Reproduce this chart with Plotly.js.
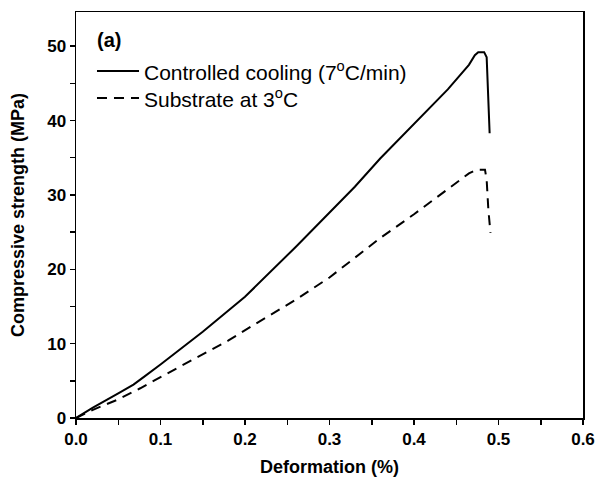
<!DOCTYPE html>
<html><head><meta charset="utf-8">
<script src="https://cdn.plot.ly/plotly-3.0.1.min.js"></script>
<style>body{margin:0;background:#fff}#c{width:604px;height:487px}</style>
</head><body><div id="c"></div>
<script>
const solidX = [0,0.02,0.05,0.068,0.08,0.1,0.15,0.18,0.2,0.26,0.3,0.33,0.36,0.4,0.44,0.465,0.472,0.476,0.483,0.486,0.487,0.488,0.4895];
const solidY = [0,1.4,3.3,4.5,5.5,7.2,11.6,14.4,16.3,23.0,27.6,31.1,34.9,39.6,44.2,47.5,48.8,49.2,49.2,48.5,45,42,38.3];
const dashX = [0,0.02,0.05,0.076,0.1,0.167,0.18,0.21,0.26,0.3,0.36,0.4,0.44,0.465,0.474,0.484,0.486,0.488,0.4905];
const dashY = [0,1.1,2.5,4.0,5.5,9.6,10.4,12.5,15.9,18.9,24.2,27.4,30.8,32.9,33.4,33.4,32,28,24.9];
const names = ["Controlled cooling (7<sup>o</sup>C/min)", "Substrate at 3<sup>o</sup>C"];
const panelLabel = "(a)";

const F = "Arial, 'Liberation Sans', sans-serif";
const DASH = '10px,7px';
const traces = [
  {x: solidX, y: solidY, name: names[0], mode: 'lines', line: {color: '#000', width: 2, dash: 'solid'}},
  {x: dashX, y: dashY, name: names[1], mode: 'lines', line: {color: '#000', width: 2, dash: DASH}}
];
const axisCommon = {
  showgrid: false, zeroline: false, showline: true, mirror: true,
  linecolor: '#000', linewidth: 1.5, ticks: 'outside', ticklen: 5, tickwidth: 1.5, tickcolor: '#000',
  tickfont: {family: F, size: 17, color: '#000', weight: 'bold'}
};
// manual legend (paper coordinates)
const legY = [0.8547, 0.788];
const legDash = ['solid', DASH];
const shapes = legY.map((y, i) => ({type: 'line', xref: 'paper', yref: 'paper',
  x0: 0.0414, x1: 0.1243, y0: y, y1: y, line: {color: '#000', width: 2, dash: legDash[i]}}));
const annotations = legY.map((y, i) => ({text: names[i], xref: 'paper', yref: 'paper', x: 0.131, y: y,
  xanchor: 'left', yanchor: 'middle', showarrow: false, font: {family: F, size: 21, color: '#000'}}));
annotations.push({text: panelLabel, xref: 'paper', yref: 'paper', x: 0.038, y: 0.931, xanchor: 'left', yanchor: 'middle',
  showarrow: false, font: {family: F, size: 20, color: '#000', weight: 'bold'}});

const layout = {
  width: 604, height: 487,
  margin: {l: 76, r: 21, t: 12, b: 69},
  paper_bgcolor: '#fff', plot_bgcolor: '#fff',
  showlegend: false,
  xaxis: Object.assign({}, axisCommon, {
    range: [0, 0.6], dtick: 0.1, tick0: 0, tickformat: '.1f',
    minor: {ticks: 'outside', ticklen: 5, dtick: 0.05, tickcolor: '#000', tickwidth: 1.5},
    title: {text: 'Deformation (%)', font: {family: F, size: 18, color: '#000', weight: 'bold'}, standoff: 12}
  }),
  yaxis: Object.assign({}, axisCommon, {
    range: [0, 54.6], dtick: 10, tick0: 0,
    minor: {ticks: 'outside', ticklen: 5, dtick: 5, tickcolor: '#000', tickwidth: 1.5},
    title: {text: 'Compressive strength (MPa)', font: {family: F, size: 18, color: '#000', weight: 'bold'}, standoff: 18}
  }),
  shapes: shapes,
  annotations: annotations
};
Plotly.newPlot('c', traces, layout, {displayModeBar: false, staticPlot: true});
</script>
</body></html>
